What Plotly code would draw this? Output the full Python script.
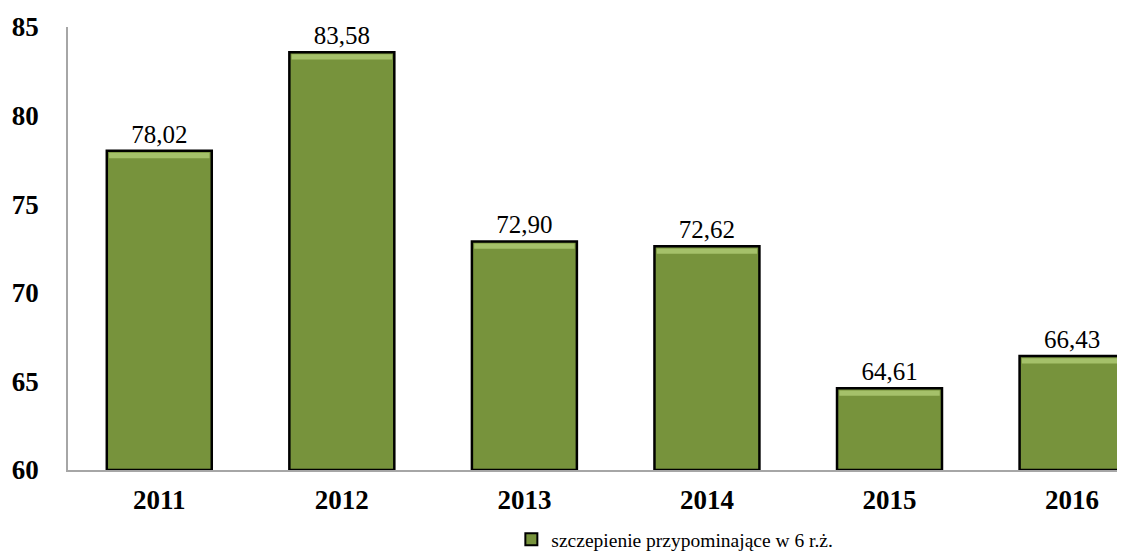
import plotly.graph_objects as go

years = ["2011", "2012", "2013", "2014", "2015", "2016"]
values = [78.02, 83.58, 72.90, 72.62, 64.61, 66.43]
labels = ["78,02", "83,58", "72,90", "72,62", "64,61", "66,43"]
series_name = "szczepienie przypominające w 6 r.ż."
y_ticks = [60, 65, 70, 75, 80, 85]

serif = "Liberation Serif, Times New Roman, serif"

fig = go.Figure()
fig.add_trace(go.Bar(
    x=years, y=[v - 60 for v in values], base=60,
    width=0.575,
    marker=dict(color="#77933C", line=dict(color="#000000", width=2.5)),
    text=labels, textposition="outside", cliponaxis=False,
    textfont=dict(family=serif, size=25, color="#000000"),
    name=series_name, showlegend=True,
))
# bevel highlight at top of each bar
fig.add_trace(go.Bar(
    x=years, y=[0.3] * len(values), base=[v - 0.42 for v in values],
    width=0.55,
    marker=dict(color="rgba(185,212,125,0.7)", line=dict(width=0)),
    showlegend=False, hoverinfo="skip",
))

# page body has an 8px default margin, so the figure is sized to fit the window
fig.update_layout(
    width=1117, height=551,
    margin=dict(l=60, r=0, t=19, b=89),
    paper_bgcolor="white", plot_bgcolor="white",
    barmode="overlay",
    legend=dict(
        orientation="h", xref="container", yref="container",
        x=0.597, xanchor="center", y=-0.008, yanchor="bottom",
        font=dict(family=serif, size=19.5, color="#000000"),
        itemsizing="constant", itemwidth=30,
    ),
)
fig.update_xaxes(
    range=[-0.5, 5.29], showline=True, linecolor="#A6A6A6", linewidth=1.5,
    ticks="", showgrid=False, ticklabelstandoff=5, automargin=False,
    tickfont=dict(family=serif, size=27, color="#000000", weight="bold"),
)
fig.update_yaxes(
    range=[60, 85], tickvals=y_ticks, showline=True, linecolor="#A6A6A6", linewidth=1.5,
    ticks="", showgrid=False, zeroline=False, ticklabelstandoff=22, automargin=False,
    tickfont=dict(family=serif, size=27, color="#000000", weight="bold"),
)
fig.write_html("out.html")
